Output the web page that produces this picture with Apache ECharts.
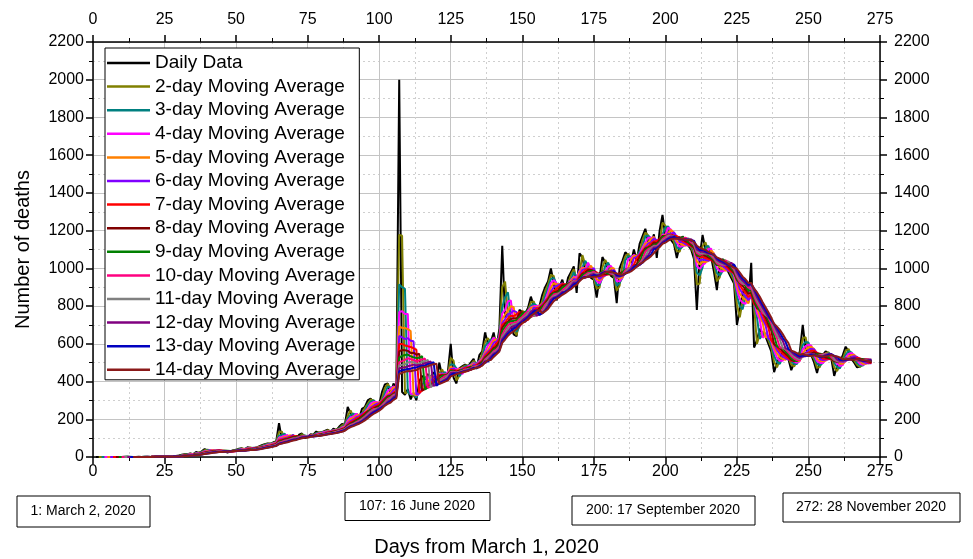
<!DOCTYPE html>
<html>
<head>
<meta charset="utf-8">
<script src="https://cdn.jsdelivr.net/npm/echarts@6/dist/echarts.min.js"></script>
<style>
html,body{margin:0;padding:0;background:#fff;}
#chart{width:973px;height:559px;}
</style>
</head>
<body>
<div id="chart"></div>
<script>
// Day index of the first value (day 1 = March 2, 2020)
const startDay = 1;
// Daily deaths, days 1..272
const daily = [
  0,0,0,0,0,0,0,0,0,0,
  1,1,0,0,0,1,0,1,1,0,
  3,2,1,2,3,4,5,3,6,8,
  12,14,15,19,13,27,22,30,42,35,
  36,33,31,35,27,30,24,30,36,38,
  44,46,40,52,48,46,50,56,62,68,
  72,70,78,82,180,90,100,95,110,115,
  90,118,125,100,105,120,118,135,128,132,
  138,145,130,150,142,160,175,170,265,230,
  195,230,205,255,265,300,310,290,265,280,
  345,385,390,330,390,355,2000,345,330,360,
  305,340,300,400,430,410,440,420,450,390,
  500,430,420,450,600,420,390,470,480,490,
  480,500,520,470,540,560,660,600,610,660,
  580,680,1120,740,760,700,650,640,780,770,
  760,790,850,800,760,800,860,900,930,1000,
  920,830,900,940,880,950,980,1010,870,1080,
  1060,980,1000,950,940,845,950,1060,1030,1000,
  960,950,815,1000,1040,1085,1070,1030,1100,1040,
  1130,1170,1210,1140,1130,1180,1055,1200,1283,1170,
  1214,1150,1130,1055,1120,1170,1140,1120,1100,1050,
  779,1060,1177,1100,1080,1060,980,885,1020,1050,
  1010,980,950,920,700,780,870,900,820,1030,
  580,620,680,650,640,600,560,450,500,530,
  560,540,520,460,500,520,560,700,570,550,
  540,500,445,510,540,560,550,520,430,480,
  500,540,585,560,520,500,475,480,500,520,
  510,498
];
// Moving-average window lengths shown in the legend
const windows = [2,3,4,5,6,7,8,9,10,11,12,13,14];
const seriesColors = ['#000000','#808000','#008080','#ff00ff','#ff8000','#8000ff','#ff0000','#800000','#008000','#ff0080','#808080','#800080','#0000c0','#8b1a1a'];
// Axis ticks
const xTicks = [0,25,50,75,100,125,150,175,200,225,250,275];
const yTicks = [0,200,400,600,800,1000,1200,1400,1600,1800,2000,2200];
// Date notes under the x axis
const notes = ['1: March 2, 2020','107: 16 June 2020','200: 17 September 2020','272: 28 November 2020'];

function movingAverage(arr, n){
  const out = [];
  for (let i = 0; i < arr.length; i++){
    if (i < n - 1){ out.push(null); continue; }
    let s = 0;
    for (let k = i - n + 1; k <= i; k++) s += arr[k];
    out.push(s / n);
  }
  return out;
}
function toPairs(arr){
  return arr.map((v,i)=> [startDay + i, v === null ? '-' : v]);
}

const FONT = "'Liberation Sans', Arial, sans-serif";
const names = ['Daily Data'].concat(windows.map(w => w + '-day Moving Average'));
const series = [];
series.push({
  name: names[0], type:'line', data: toPairs(daily), showSymbol:false, symbol:'none',
  lineStyle:{width:2, color:seriesColors[0]}, itemStyle:{color:seriesColors[0]}, z:2, animation:false
});
windows.forEach((w, j) => {
  series.push({
    name: names[j+1], type:'line', data: toPairs(movingAverage(daily, w)), showSymbol:false, symbol:'none',
    lineStyle:{width:2, color:seriesColors[j+1]}, itemStyle:{color:seriesColors[j+1]}, z:2, animation:false
  });
});

const xMin = xTicks[0], xMax = xTicks[xTicks.length-1], xInt = xTicks[1]-xTicks[0];
const yMin = yTicks[0], yMax = yTicks[yTicks.length-1], yInt = yTicks[1]-yTicks[0];
const plainFmt = v => String(v);
const axisLabelStyle = {color:'#000', fontSize:16, fontFamily:FONT, formatter:plainFmt};
const gridLine = {show:true, lineStyle:{color:'#c4c4c4', width:1, type:'solid'}};
const minorGrid = {show:true, lineStyle:{color:'#cfcfcf', width:1, type:[2,3]}};

const xBase = {
  type:'value', min:xMin, max:xMax, interval:xInt,
  axisLine:{show:true, onZero:false, lineStyle:{color:'#000', width:1.5}},
  axisTick:{show:true, length:7, lineStyle:{color:'#000', width:1.5}},
  minorTick:{show:true, splitNumber:2, length:4, lineStyle:{color:'#000', width:1}}
};
const yBase = {
  type:'value', min:yMin, max:yMax, interval:yInt,
  axisLine:{show:true, onZero:false, lineStyle:{color:'#000', width:1.5}},
  axisTick:{show:true, length:7, lineStyle:{color:'#000', width:1.5}},
  minorTick:{show:true, splitNumber:2, length:4, lineStyle:{color:'#000', width:1}}
};

const chart = echarts.init(document.getElementById('chart'), null, {renderer:'canvas'});
const noteBoxes = [
  {cx:83, cy:511, w:133, h:31},
  {cx:417, cy:506, w:145, h:28},
  {cx:663, cy:510, w:183, h:29},
  {cx:871, cy:507, w:177, h:29}
];
const graphics = [];
notes.forEach((t,i) => {
  const b = noteBoxes[i];
  graphics.push({type:'rect', left:b.cx - b.w/2, top:b.cy - b.h/2, shape:{width:b.w, height:b.h},
    style:{fill:'#fff', stroke:'#000', lineWidth:1}, silent:true});
  graphics.push({type:'text', x:b.cx, y:b.cy, style:{text:t, fill:'#000', font:'14px ' + FONT, align:'center', verticalAlign:'middle'}, silent:true});
});

chart.setOption({
  animation:false,
  backgroundColor:'#fff',
  color: seriesColors,
  grid:{left:93, right:93, top:42, bottom:102, containLabel:false, outerBoundsMode:'none'},
  legend:{
    data: names, orient:'vertical', left:105, top:48,
    backgroundColor:'#fff', borderColor:'#000', borderWidth:1,
    padding:[5,4,0,2], itemWidth:43, itemHeight:2.5, itemGap:3.6, icon:'rect',
    textStyle:{color:'#000', fontSize:19, fontFamily:FONT, lineHeight:20},
    selectedMode:false, z:10
  },
  xAxis:[
    Object.assign({}, xBase, {position:'bottom',
      name:'Days from March 1, 2020', nameLocation:'middle', nameGap:80,
      nameTextStyle:{color:'#000', fontSize:20, fontFamily:FONT},
      axisLabel:Object.assign({margin:7}, axisLabelStyle),
      splitLine:gridLine, minorSplitLine:minorGrid}),
    Object.assign({}, xBase, {position:'top',
      axisLabel:Object.assign({margin:14}, axisLabelStyle),
      splitLine:{show:false}})
  ],
  yAxis:[
    Object.assign({}, yBase, {position:'left',
      name:'Number of deaths', nameLocation:'middle', nameGap:60, nameRotate:90,
      nameTextStyle:{color:'#000', fontSize:20, fontFamily:FONT},
      axisLabel:Object.assign({margin:9}, axisLabelStyle),
      splitLine:gridLine, minorSplitLine:minorGrid}),
    Object.assign({}, yBase, {position:'right',
      axisLabel:Object.assign({margin:14}, axisLabelStyle),
      splitLine:{show:false}})
  ],
  series: series,
  graphic: graphics
});
</script>
</body>
</html>
